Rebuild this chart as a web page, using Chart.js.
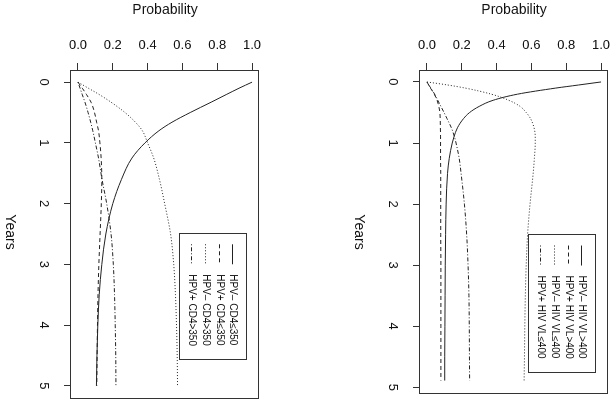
<!DOCTYPE html>
<html>
<head>
<meta charset="utf-8">
<script src="https://cdn.jsdelivr.net/npm/chart.js@4"></script>
<style>
  html, body { margin: 0; padding: 0; background: #fff; }
  body { width: 615px; height: 404px; overflow: hidden; position: relative; }
  canvas { position: absolute; top: 0; transform-origin: 0 0; transform: translate(266px, 0) rotate(90deg); }
  #c1 { left: 0; }
  #c2 { left: 349px; }
</style>
</head>
<body>
<canvas id="c1" width="404" height="266" style="width:404px;height:266px"></canvas>
<canvas id="c2" width="404" height="266" style="width:404px;height:266px"></canvas>
<script>
// ---- data ----
const yearTicks = [0, 1, 2, 3, 4, 5];
const yearLabels = ['0', '1', '2', '3', '4', '5'];
const probTicks = [0, 0.2, 0.4, 0.6, 0.8, 1.0];
const probLabels = ['0.0', '0.2', '0.4', '0.6', '0.8', '1.0'];

const leftLabels = ['HPV\u2013 CD4\u2264350', 'HPV+ CD4\u2264350', 'HPV\u2013 CD4>350', 'HPV+ CD4>350'];
const leftYears = [0, 0.1, 0.2, 0.33, 0.5, 0.66, 0.8, 1, 1.25, 1.6, 2, 2.5, 3, 3.5, 4, 4.5, 5];
const leftHpvNegLow = [1.0, 0.925, 0.855, 0.765, 0.645, 0.54, 0.465, 0.385, 0.31, 0.25, 0.2, 0.16, 0.137, 0.122, 0.114, 0.109, 0.106];
const leftHpvPosLow = [0, 0.025, 0.048, 0.075, 0.095, 0.107, 0.118, 0.126, 0.133, 0.137, 0.134, 0.127, 0.12, 0.115, 0.112, 0.11, 0.108];
const leftHpvNegHigh = [0, 0.06, 0.12, 0.19, 0.27, 0.33, 0.37, 0.40, 0.435, 0.468, 0.498, 0.532, 0.55, 0.56, 0.566, 0.57, 0.572];
const leftHpvPosHigh = [0, 0.012, 0.024, 0.04, 0.058, 0.073, 0.085, 0.1, 0.118, 0.138, 0.165, 0.19, 0.203, 0.21, 0.214, 0.217, 0.218];

const rightLabels = ['HPV\u2013 HIV VL>400', 'HPV+ HIV VL>400', 'HPV\u2013 HIV VL\u2264400', 'HPV+ HIV VL\u2264400'];
const rightYears = [0, 0.05, 0.1, 0.2, 0.3, 0.4, 0.5, 0.6, 0.75, 0.9, 1, 1.25, 1.5, 2, 2.5, 3, 3.5, 4, 4.5, 4.89];
const rightHpvNegVlHigh = [1.0, 0.87, 0.74, 0.52, 0.38, 0.3, 0.245, 0.21, 0.175, 0.155, 0.145, 0.128, 0.118, 0.11, 0.107, 0.105, 0.104, 0.103, 0.102, 0.102];
const rightHpvPosVlHigh = [0, 0.01, 0.02, 0.042, 0.058, 0.068, 0.074, 0.076, 0.077, 0.078, 0.078, 0.078, 0.079, 0.079, 0.079, 0.08, 0.08, 0.08, 0.08, 0.08];
const rightHpvNegVlLow = [0, 0.12, 0.22, 0.37, 0.47, 0.535, 0.57, 0.595, 0.615, 0.622, 0.622, 0.617, 0.61, 0.592, 0.578, 0.57, 0.565, 0.562, 0.56, 0.558];
const rightHpvPosVlLow = [0, 0.01, 0.022, 0.044, 0.062, 0.08, 0.098, 0.115, 0.14, 0.158, 0.167, 0.185, 0.196, 0.215, 0.228, 0.236, 0.241, 0.243, 0.244, 0.245];

// ---- styles ----
const dashes = [[], [4, 3], [1, 2], [1, 2, 4, 2]];
const INK = '#222';
const FONT = '"Liberation Sans", Arial, sans-serif';

function makeDatasets(labels, years, series) {
  return series.map((vals, i) => ({
    label: labels[i],
    data: years.map((t, j) => ({ x: t, y: vals[j] })),
    borderColor: INK,
    borderWidth: 1,
    borderDash: dashes[i],
    pointRadius: 0,
    fill: false,
    cubicInterpolationMode: 'monotone'
  }));
}

const decorPlugin = {
  id: 'decor',
  afterDraw(chart, args, opts) {
    const { ctx, chartArea: a, scales } = chart;
    ctx.save();
    // box
    ctx.strokeStyle = '#333';
    ctx.lineWidth = 1;
    ctx.setLineDash([]);
    ctx.strokeRect(Math.round(a.left) + 0.5, Math.round(a.top) + 0.5, Math.round(a.right - a.left), Math.round(a.bottom - a.top));
    // probability tick labels (rotated)
    ctx.fillStyle = '#111';
    ctx.font = '13px ' + FONT;
    ctx.textAlign = 'center';
    ctx.textBaseline = 'middle';
    probTicks.forEach((v, i) => {
      const py = scales.y.getPixelForValue(v);
      ctx.save();
      ctx.translate(45, py);
      ctx.rotate(-Math.PI / 2);
      ctx.fillText(probLabels[i], 0, 0);
      ctx.restore();
    });
    // titles
    ctx.font = '14px ' + FONT;
    ctx.save();
    ctx.translate(10.5, (a.top + a.bottom) / 2);
    ctx.rotate(-Math.PI / 2);
    ctx.fillText('Probability', 0, 0);
    ctx.restore();
    ctx.fillText('Years', 232, 256);
    // legend
    const lx = scales.x.getPixelForValue(opts.at[0]);
    const ly = scales.y.getPixelForValue(opts.at[1]);
    ctx.font = '10px ' + FONT;
    const ds = chart.data.datasets;
    let tw = 0;
    ds.forEach(d => { tw = Math.max(tw, ctx.measureText(d.label).width); });
    const bw = 41.5 + tw + 13;
    const bh = 67;
    ctx.strokeStyle = '#333';
    ctx.strokeRect(Math.round(lx) + 0.5, Math.round(ly) + 0.5, Math.round(bw), bh);
    ds.forEach((d, i) => {
      const cy = Math.round(ly + 13.7 + i * 13.6) + 0.5;
      ctx.beginPath();
      ctx.setLineDash(d.borderDash);
      ctx.strokeStyle = INK;
      ctx.moveTo(lx + 11.5, cy);
      ctx.lineTo(lx + 31.5, cy);
      ctx.stroke();
      ctx.setLineDash([]);
      ctx.textAlign = 'left';
      ctx.fillStyle = '#111';
      ctx.fillText(d.label, lx + 41.5, cy);
    });
    ctx.restore();
  }
};

function makeChart(id, labels, years, series, xmin, xmax, legendAt) {
  return new Chart(document.getElementById(id), {
    type: 'line',
    data: { datasets: makeDatasets(labels, years, series) },
    options: {
      responsive: false,
      animation: false,
      devicePixelRatio: 1,
      layout: { padding: { top: 7, right: 6, left: 0, bottom: 0 } },
      plugins: { legend: { display: false }, tooltip: { enabled: false }, decor: { at: legendAt } },
      scales: {
        x: {
          type: 'linear', position: 'bottom', min: xmin, max: xmax,
          afterBuildTicks: s => { s.ticks = yearTicks.map(v => ({ value: v })); },
          afterFit: s => { s.height = 71; },
          ticks: { callback: (v, i) => yearLabels[i], color: '#111', font: { size: 13, family: FONT }, padding: 13, autoSkip: false, maxRotation: 0 },
          grid: { display: true, drawOnChartArea: false, drawTicks: true, tickLength: 7, color: '#333' },
          border: { display: true, color: '#333' }
        },
        y: {
          type: 'linear', position: 'left', min: -0.04, max: 1.04,
          afterBuildTicks: s => { s.ticks = probTicks.map(v => ({ value: v })); },
          afterFit: s => { s.width = 70; },
          ticks: { display: false },
          grid: { display: true, drawOnChartArea: false, drawTicks: true, tickLength: 7, color: '#333' },
          border: { display: true, color: '#333' }
        }
      }
    },
    plugins: [decorPlugin]
  });
}

makeChart('c1', leftLabels, leftYears, [leftHpvNegLow, leftHpvPosLow, leftHpvNegHigh, leftHpvPosHigh], -0.2, 5.2, [2.48, 0.97]);
makeChart('c2', rightLabels, rightYears, [rightHpvNegVlHigh, rightHpvPosVlHigh, rightHpvNegVlLow, rightHpvPosVlLow], -0.196, 5.087, [2.49, 0.97]);
</script>
</body>
</html>
